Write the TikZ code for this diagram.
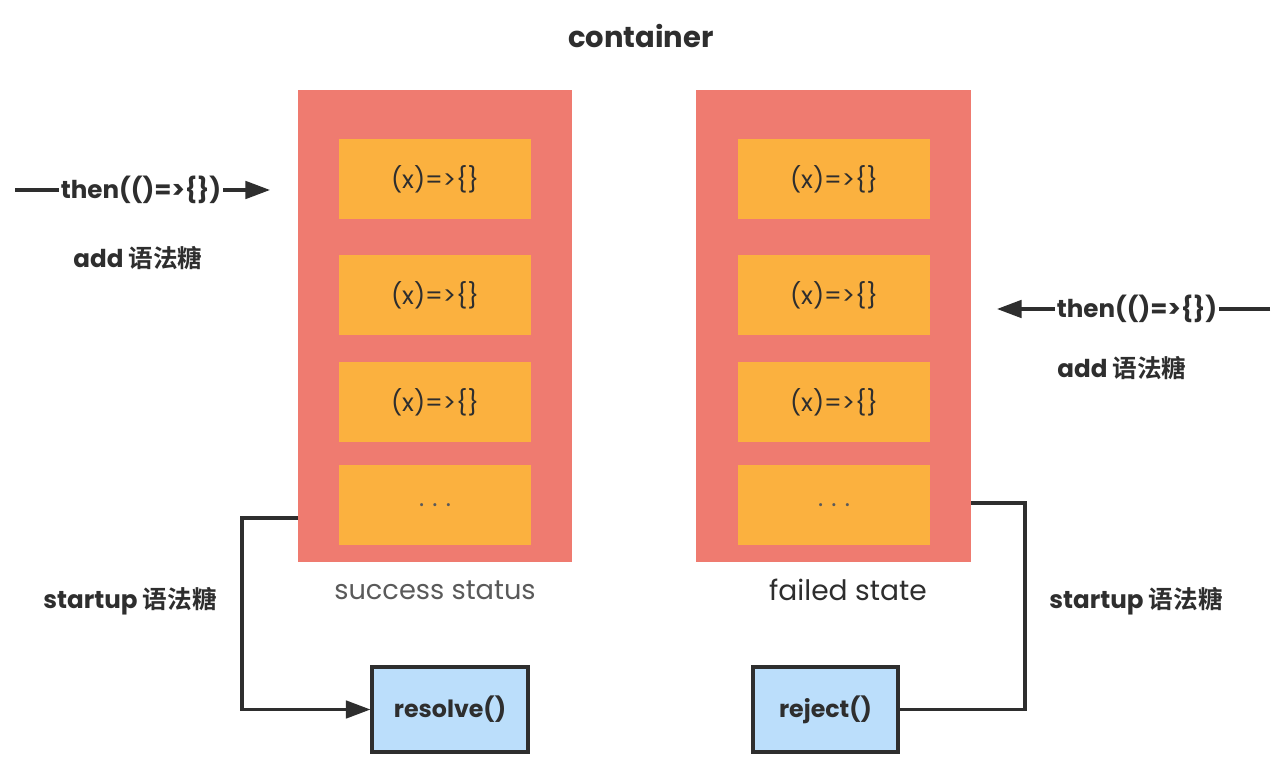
\documentclass[tikz,border=0pt]{standalone}
\usepackage{fontspec}
\setmainfont{Poppins}
\newfontfamily\cjk{Noto Sans CJK SC}[BoldFont={Noto Sans CJK SC Bold}]
\usetikzlibrary{arrows.meta}
\definecolor{redfill}{HTML}{EF7B70}
\definecolor{orangefill}{HTML}{FBB13F}
\definecolor{bluefill}{HTML}{BBDEFB}
\definecolor{ink}{HTML}{2E2E2E}
\definecolor{greyink}{HTML}{5A5A5A}
\tikzset{
  redbox/.style={fill=redfill, draw=none, minimum width=5.48cm, minimum height=9.44cm, inner sep=0pt},
  orangebox/.style={fill=orangefill, draw=none, minimum width=3.84cm, minimum height=1.6cm, inner sep=0pt, text=ink, font=\fontsize{14}{16}\selectfont},
  callbox/.style={fill=bluefill, draw=ink, line width=1.8pt, minimum height=1.7cm, inner sep=0pt, text=ink, font=\fontsize{13.5}{16}\selectfont\bfseries},
  label/.style={text=ink, font=\fontsize{14}{16}\selectfont\bfseries, inner sep=1pt},
  conn/.style={draw=ink, line width=1.8pt},
  tipline/.style={conn, -{Triangle[length=14pt, width=10pt]}}
}
\begin{document}
\begin{tikzpicture}[x=0.02cm, y=-0.02cm]
\useasboundingbox (0,0) rectangle (1284,766);
\fill[white] (0,0) rectangle (1284,766);

\node[label, font=\fontsize{16.5}{18}\selectfont\bfseries] (title) at (641,36) {container};

% left container
\node[redbox] (lred) at (435,326) {};
\node[orangebox] (l1) at (435,179) {(x)=>\{\}};
\node[orangebox] (l2) at (435,295) {(x)=>\{\}};
\node[orangebox] (l3) at (435,402) {(x)=>\{\}};
\node[orangebox, text=greyink] (l4) at (435,505) {.\,\,.\,\,.};
\node[text=greyink, font=\fontsize{15.5}{18}\selectfont] (lstat) at (435,590) {success status};

% right container
\node[redbox, minimum width=5.5cm] (rred) at (833.5,326) {};
\node[orangebox] (r1) at (834,179) {(x)=>\{\}};
\node[orangebox] (r2) at (834,295) {(x)=>\{\}};
\node[orangebox] (r3) at (834,402) {(x)=>\{\}};
\node[orangebox, text=greyink] (r4) at (834,505) {.\,\,.\,\,.};
\node[text=ink, font=\fontsize{16}{18}\selectfont] (rstat) at (848,590) {failed state};

% left then arrow
\coordinate (la0) at (15,190);
\node[label] (lthen) at (141,190) {then(()=>\{\})};
\coordinate (la1) at (270,190);
\draw[conn] (la0) -- (lthen.west);
\draw[tipline] (lthen.east) -- (la1);
\node[label] (ladd) at (138,258) {add {\cjk\bfseries 语法糖}};

% right then arrow
\coordinate (ra0) at (1270,309);
\node[label] (rthen) at (1137,309) {then(()=>\{\})};
\coordinate (ra1) at (997,309);
\draw[conn] (ra0) -- (rthen.east);
\draw[tipline] (rthen.west) -- (ra1);
\node[label] (radd) at (1122,368) {add {\cjk\bfseries 语法糖}};

% startup labels
\node[label] (lstart) at (130,601) {startup {\cjk\bfseries 语法糖}};
\node[label] (rstart) at (1136,601) {startup {\cjk\bfseries 语法糖}};

% call boxes
\node[callbox, minimum width=3.12cm] (resolve) at (450,709.5) {resolve()};
\node[callbox, minimum width=2.9cm] (reject) at (825.5,709.5) {reject()};

% connectors
\coordinate (ls) at (298,518);
\draw[tipline] (ls) -- ++(-56,0) |- (resolve.west);
\coordinate (rs) at (971,503);
\draw[conn] (rs) -- ++(54,0) |- (reject.east);
\end{tikzpicture}
\end{document}
